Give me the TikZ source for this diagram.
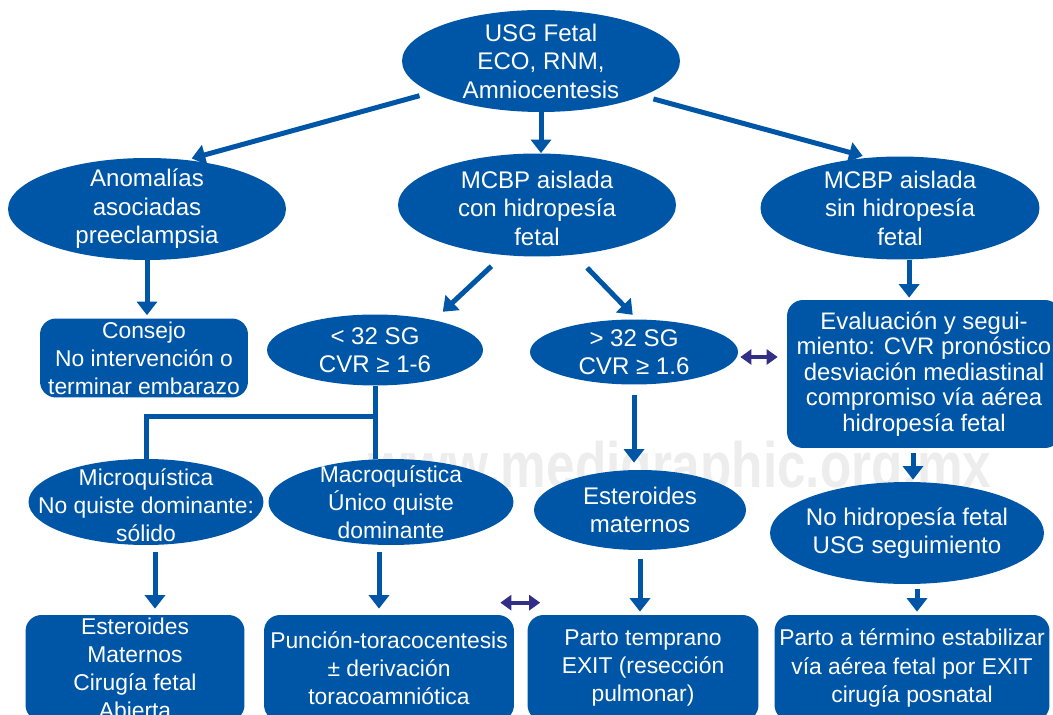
\documentclass[tikz,border=0pt]{standalone}
\usepackage{fontspec}
\setmainfont{Liberation Sans}
\usepackage{graphicx}
\usetikzlibrary{shapes,arrows.meta,positioning,calc}
\definecolor{fluxblue}{HTML}{0056A6}
\definecolor{fluxindigo}{HTML}{332F86}

\begin{document}
\begin{tikzpicture}[x=0.02cm, y=-0.02cm,
    txt/.style={text=white, align=center, font=\fontsize{13}{16}\selectfont, inner sep=0pt},
    bigtxt/.style={txt, font=\fontsize{13.7}{16.2}\selectfont},
    oval/.style 2 args={ellipse, fill=fluxblue, minimum width=#1cm, minimum height=#2cm, inner sep=0pt},
    box/.style 2 args={txt, rectangle, rounded corners=0.32cm, fill=fluxblue, minimum width=#1cm, minimum height=#2cm},
    arr/.style={line width=0.1cm, draw=fluxblue, -{Triangle[width=0.4cm,length=0.27cm]}},
    ln/.style={line width=0.1cm, draw=fluxblue},
    dbl/.style={line width=0.08cm, draw=fluxindigo, {Triangle[width=0.3cm,length=0.22cm]}-{Triangle[width=0.3cm,length=0.22cm]}}]
    \useasboundingbox (0,0) rectangle (1053,715);
    \clip (0,0) rectangle (1053,715);

    \node[font=\bfseries\fontsize{36.5}{40}\selectfont, text=gray!14, anchor=base, inner sep=0pt] (wmark) at (680,487) {\scalebox{0.8}[1]{www.medigraphic.org.mx}};

    \node[oval={5.56}{2.04}, label={[bigtxt]center:{USG Fetal\\ECO, RNM,\\Amniocentesis}}] (usg) at (541,61) {};
    \node[oval={5.56}{2.04}, label={[bigtxt]center:{Anomalías\\asociadas\\preeclampsia}}] (anom) at (147,209) {};
    \node[oval={5.56}{2.06}, label={[bigtxt, yshift=-0.06cm]center:{MCBP aislada\\con hidropesía\\fetal}}] (con) at (537,205) {};
    \node[oval={5.58}{2.06}, label={[bigtxt]center:{MCBP aislada\\sin hidropesía\\fetal}}] (sin) at (900,208) {};

    \node[box={4.16}{1.58}] (cons) at (144,358) {Consejo\\No intervención o\\terminar embarazo};
    \node[oval={4.32}{1.42}, label={[bigtxt]center:{< 32 SG\\CVR ≥ 1-6}}] (lt32) at (375,350) {};
    \node[oval={4.16}{1.30}, label={[bigtxt]center:{> 32 SG\\CVR ≥ 1.6}}] (gt32) at (634,352) {};
    \node[box={5.48}{2.96}, font=\fontsize{13.6}{14.6}\selectfont] (eval) at (924,374) {Evaluación y segui-\\miento: CVR pronóstico\\desviación mediastinal\\compromiso vía aérea\\hidropesía fetal};

    \node[oval={4.70}{1.72}, label={[txt, yshift=-0.06cm]center:{Microquística\\No quiste dominante:\\sólido}}] (micro) at (146,502) {};
    \node[oval={4.90}{1.72}, label={[txt]center:{Macroquística\\Único quiste\\dominante}}] (macro) at (391,502) {};
    \node[oval={4.24}{1.60}, label={[bigtxt]center:{Esteroides\\maternos}}] (este) at (640,510) {};
    \node[oval={5.48}{2.04}, label={[bigtxt]center:{No hidropesía fetal\\USG seguimiento}}] (nohid) at (907,533) {};

    \node[box={4.38}{2.12}] (estb) at (135,668) {Esteroides\\Maternos\\Cirugía fetal\\Abierta};
    \node[box={5.00}{2.12}] (punc) at (389,668) {Punción-toracocentesis\\± derivación\\toracoamniótica};
    \node[box={4.62}{2.12}] (parto) at (643,668) {Parto temprano\\EXIT (resección\\pulmonar)};
    \node[box={5.50}{2.12}] (term) at (912,668) {Parto a término estabilizar\\vía aérea fetal por EXIT\\cirugía posnatal};

    \draw[arr, shorten <=0.24cm, shorten >=0.1cm] (usg.196) -- (anom.51);
    \draw[arr] (usg.south) -- (usg.south |- con.north);
    \draw[arr, shorten <=0.22cm, shorten >=0.12cm] (usg.341) -- (sin.122);
    \draw[arr, shorten >=0.06cm] (anom.south) -- (anom.south |- cons.north);
    \draw[arr, shorten <=0.32cm, shorten >=0.24cm] (con.236) -- (lt32.27);
    \draw[arr, shorten <=0.36cm, shorten >=0.12cm] (con.307) -- (gt32.85);
    \draw[arr, shorten >=0.04cm] (sin.280) -- (sin.280 |- eval.north);

    \draw[ln] (lt32.south) -- (lt32.south |- macro.north);
    \draw[ln] ($(lt32.south)+(0,31)$) -| (micro.north);

    \draw[arr, shorten <=0.14cm, shorten >=0.12cm] let \p1=($(micro.south)+(9,0)$), \p2=(estb.north) in (\p1) -- (\x1,\y2);
    \draw[arr, shorten <=0.14cm, shorten >=0.12cm] let \p1=($(macro.south)+(-12,0)$), \p2=(punc.north) in (\p1) -- (\x1,\y2);
    \draw[arr, shorten <=0.2cm, shorten >=0.14cm] (gt32.south) -- (gt32.south |- este.north);
    \draw[arr, shorten <=0.18cm, shorten >=0.06cm] (este.south) -- (este.south |- parto.north);
    \draw[arr, shorten <=0.1cm, shorten >=0.04cm] let \p1=($(nohid.north)+(6,0)$), \p2=(eval.south) in (\x1,\y2) -- (\p1);
    \draw[arr, shorten <=0.1cm, shorten >=0.06cm] let \p1=($(nohid.south)+(10,0)$), \p2=(term.north) in (\p1) -- (\x1,\y2);

    \draw[dbl] ($(gt32.east)+(2,5)$) -- ($(gt32.east -| eval.west)+(-9,5)$);
    \draw[dbl] ($(punc.north east)+(-14,-12)$) -- ($(parto.north west)+(13,-12)$);
\end{tikzpicture}
\end{document}
